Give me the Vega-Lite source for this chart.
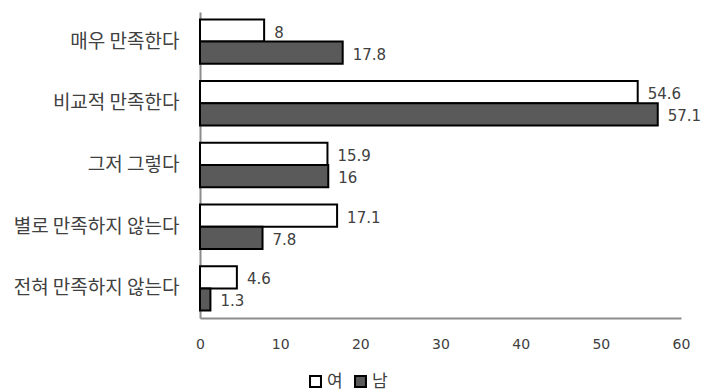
{
  "$schema": "https://vega.github.io/schema/vega-lite/v6.json",
  "autosize": {"type": "none"},
  "padding": {"left": 200, "top": 12, "right": 25, "bottom": 74},
  "width": 481,
  "height": 306,
  "background": "white",
  "config": {"view": {"stroke": null}, "font": "DejaVu Sans"},
  "data": {
    "values": [
      {"category": "매우 만족한다", "gender": "여", "value": 8},
      {"category": "매우 만족한다", "gender": "남", "value": 17.8},
      {"category": "비교적 만족한다", "gender": "여", "value": 54.6},
      {"category": "비교적 만족한다", "gender": "남", "value": 57.1},
      {"category": "그저 그렇다", "gender": "여", "value": 15.9},
      {"category": "그저 그렇다", "gender": "남", "value": 16},
      {"category": "별로 만족하지 않는다", "gender": "여", "value": 17.1},
      {"category": "별로 만족하지 않는다", "gender": "남", "value": 7.8},
      {"category": "전혀 만족하지 않는다", "gender": "여", "value": 4.6},
      {"category": "전혀 만족하지 않는다", "gender": "남", "value": 1.3}
    ]
  },
  "encoding": {
    "y": {
      "field": "category",
      "type": "nominal",
      "sort": null,
      "scale": {"paddingInner": 0.28, "paddingOuter": 0.12},
      "axis": {
        "title": null,
        "ticks": false,
        "domainColor": "#8c8c8c",
        "domainWidth": 2,
        "labelFont": "Noto Sans CJK KR",
        "labelFontSize": 19,
        "labelColor": "#404040",
        "labelPadding": 21,
        "labelLimit": 250
      }
    },
    "yOffset": {"field": "gender", "type": "nominal", "sort": ["여", "남"]},
    "x": {
      "field": "value",
      "type": "quantitative",
      "scale": {"domain": [0, 60], "nice": false},
      "axis": {
        "title": null,
        "ticks": false,
        "grid": false,
        "values": [0, 10, 20, 30, 40, 50, 60],
        "labelFlush": false,
        "domainColor": "#8c8c8c",
        "domainWidth": 2,
        "labelFontSize": 14,
        "labelColor": "#404040",
        "labelPadding": 19
      }
    }
  },
  "layer": [
    {
      "mark": {"type": "bar", "stroke": "black", "strokeWidth": 2},
      "encoding": {
        "color": {
          "field": "gender",
          "type": "nominal",
          "scale": {"domain": ["여", "남"], "range": ["white", "#5a5a5a"]},
          "legend": {
            "title": null,
            "orient": "none",
            "direction": "horizontal",
            "legendX": 107,
            "legendY": 361,
            "symbolType": "square",
            "symbolSize": 120,
            "symbolStrokeColor": "black",
            "symbolStrokeWidth": 2,
            "symbolOpacity": 1,
            "labelFont": "Noto Sans CJK KR",
            "labelFontSize": 17,
            "labelColor": "#404040",
            "labelOffset": 3,
            "columnPadding": 8
          }
        }
      }
    },
    {
      "mark": {"type": "text", "align": "left", "baseline": "middle", "dx": 10, "dy": 2, "fontSize": 15, "color": "#404040"},
      "encoding": {
        "text": {"field": "value", "type": "quantitative", "format": "~g"}
      }
    }
  ]
}
